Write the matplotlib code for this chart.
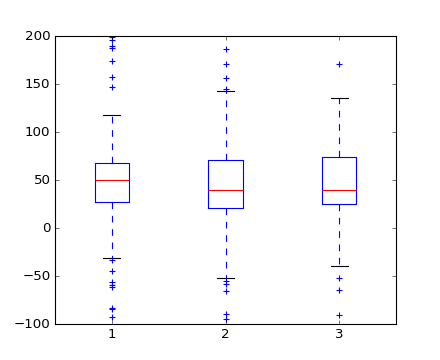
import matplotlib
matplotlib.use("Agg")
import matplotlib.pyplot as plt

plt.style.use("classic")

# box statistics, one entry per group
labels = ["1", "2", "3"]
medians = [49.5, 39.2, 39.2]
q1 = [26.7, 20.5, 24.7]
q3 = [67.4, 70.5, 73.6]
whisker_low = [-31.6, -52.4, -39.9]
whisker_high = [117.4, 142.4, 135.1]
fliers = [
    [198.6, 195.8, 189.6, 187.2, 174.3, 157.6, 146.5,
     -33.3, -45.1, -56.6, -59.4, -61.5, -83.7, -84.7, -93.1],
    [186.5, 170.5, 155.9, 144.4, -54.9, -58.3, -65.3, -89.6, -95.1],
    [170.8, -52.4, -64.9, -90.6],
]

stats = []
for i in range(len(labels)):
    stats.append({
        "label": labels[i],
        "med": medians[i],
        "q1": q1[i],
        "q3": q3[i],
        "whislo": whisker_low[i],
        "whishi": whisker_high[i],
        "fliers": fliers[i],
    })

fig = plt.figure(figsize=(5.5, 4.5), dpi=80)
ax = fig.add_subplot(111)
ax.bxp(
    stats,
    widths=0.3,
    flierprops=dict(marker="+", markeredgecolor="b", markerfacecolor="none",
                    linestyle="none"),
)

ax.set_xlim(0.5, 3.5)
ax.set_ylim(-100, 200)
ax.set_yticks([-100, -50, 0, 50, 100, 150, 200])

fig.savefig("out.png", dpi=80)
